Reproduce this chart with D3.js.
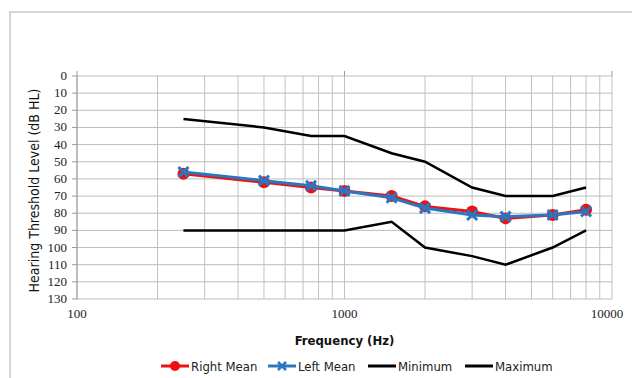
<!DOCTYPE html>
<html>
<head>
<meta charset="utf-8">
<script src="https://cdn.jsdelivr.net/npm/d3@7"></script>
<style>
  body { margin: 0; background: #fff; }
</style>
</head>
<body>
<script>
var frequencies = [250, 500, 750, 1000, 1500, 2000, 3000, 4000, 6000, 8000];
var rightMean = [57, 62, 65, 67, 70, 76, 79, 83, 81, 78];
var leftMean = [56, 61, 64, 67, 71, 77, 81, 82, 81, 79];
var minimum = [25, 30, 35, 35, 45, 50, 65, 70, 70, 65];
var maximum = [90, 90, 90, 90, 85, 100, 105, 110, 100, 90];
var yTicks = [0, 10, 20, 30, 40, 50, 60, 70, 80, 90, 100, 110, 120, 130];
var xTicks = [100, 1000, 10000];

var serif = "'Liberation Serif', 'Times New Roman', serif";
var sans = "'DejaVu Sans Condensed', 'DejaVu Sans', sans-serif";

var chartWidth = 632;
var chartHeight = 378;
var margin = {top: 76, right: 20, bottom: 79, left: 77};
var width = 612 - margin.left;
var height = 299 - margin.top;

var svg = d3.select("body")
            .append("svg")
            .attr("width", chartWidth)
            .attr("height", chartHeight);

// outer frame
svg.append("rect")
   .attr("x", 10).attr("y", 12)
   .attr("width", 640).attr("height", 400)
   .attr("fill", "none")
   .attr("stroke", "#c8c8c8")
   .attr("stroke-width", 1.5);

var xScale = d3.scaleLog()
               .domain([100, 10000])
               .range([0, width]);

var yScale = d3.scaleLinear()
               .domain([0, 130])
               .range([0, height]);

var chartGroup = svg.append("g")
                    .attr("transform", "translate(" + margin.left + "," + margin.top + ")");

// minor + major vertical gridlines
var xGrid = [];
[100, 1000].forEach(function(d) {
  for (var k = 1; k <= 10; k++) xGrid.push(d * k);
});
xGrid = Array.from(new Set(xGrid));

chartGroup.selectAll(".vgrid")
          .data(xGrid)
          .enter()
          .append("line")
          .attr("x1", function(d) { return xScale(d); })
          .attr("x2", function(d) { return xScale(d); })
          .attr("y1", 0)
          .attr("y2", height)
          .attr("stroke", "#c2c2c2")
          .attr("stroke-width", 1);

chartGroup.selectAll(".hgrid")
          .data(yTicks)
          .enter()
          .append("line")
          .attr("x1", 0)
          .attr("x2", width)
          .attr("y1", function(d) { return yScale(d); })
          .attr("y2", function(d) { return yScale(d); })
          .attr("stroke", "#bcbcbc")
          .attr("stroke-width", 1);

// left axis line + ticks
chartGroup.append("line")
          .attr("x1", 0).attr("x2", 0)
          .attr("y1", 0).attr("y2", height)
          .attr("stroke", "#999").attr("stroke-width", 1);

chartGroup.selectAll(".ytick")
          .data(yTicks)
          .enter()
          .append("line")
          .attr("x1", -5).attr("x2", 0)
          .attr("y1", function(d) { return yScale(d); })
          .attr("y2", function(d) { return yScale(d); })
          .attr("stroke", "#999");

chartGroup.selectAll(".ylabel")
          .data(yTicks)
          .enter()
          .append("text")
          .style("font-family", serif)
          .style("font-size", "13px")
          .attr("fill", "#222")
          .attr("text-anchor", "end")
          .attr("x", -10)
          .attr("y", function(d) { return yScale(d) + 4; })
          .text(function(d) { return d; });

// top ticks at major x positions
chartGroup.selectAll(".xtick")
          .data(xTicks)
          .enter()
          .append("line")
          .attr("x1", function(d) { return xScale(d); })
          .attr("x2", function(d) { return xScale(d); })
          .attr("y1", -5).attr("y2", 0)
          .attr("stroke", "#999");

chartGroup.selectAll(".xlabel")
          .data(xTicks)
          .enter()
          .append("text")
          .style("font-family", serif)
          .style("font-size", "13px")
          .attr("fill", "#222")
          .attr("text-anchor", "middle")
          .attr("x", function(d, i) { return xScale(d) - (i === 2 ? 5 : 0); })
          .attr("y", height + 19)
          .text(function(d) { return d; });

// axis titles
chartGroup.append("text")
          .style("font-family", sans)
          .style("font-size", "13px")
          .style("font-weight", "bold")
          .attr("fill", "#111")
          .attr("text-anchor", "middle")
          .attr("x", xScale(1000))
          .attr("y", height + 46)
          .text("Frequency (Hz)");

chartGroup.append("text")
          .style("font-family", sans)
          .style("font-size", "14px")
          .attr("fill", "#111")
          .attr("text-anchor", "middle")
          .attr("transform", "translate(-38," + (yScale(65) + 3) + ") rotate(-90)")
          .text("Hearing Threshold Level (dB HL)");

var line = d3.line()
             .x(function(d) { return xScale(d[0]); })
             .y(function(d) { return yScale(d[1]); });

function pairs(vals) {
  return frequencies.map(function(f, i) { return [f, vals[i]]; });
}

chartGroup.append("path")
          .attr("d", line(pairs(minimum)))
          .attr("fill", "none").attr("stroke", "#000").attr("stroke-width", 2.5);

chartGroup.append("path")
          .attr("d", line(pairs(maximum)))
          .attr("fill", "none").attr("stroke", "#000").attr("stroke-width", 2.5);

var red = "#ee1111";
var blue = "#2c76bf";

chartGroup.append("path")
          .attr("d", line(pairs(rightMean)))
          .attr("fill", "none").attr("stroke", red).attr("stroke-width", 3);

chartGroup.selectAll(".rdot")
          .data(pairs(rightMean))
          .enter()
          .append("circle")
          .attr("cx", function(d) { return xScale(d[0]); })
          .attr("cy", function(d) { return yScale(d[1]); })
          .attr("r", 6)
          .attr("fill", red);

chartGroup.append("path")
          .attr("d", line(pairs(leftMean)))
          .attr("fill", "none").attr("stroke", blue).attr("stroke-width", 3);

var cross = "M-5,-5L5,5M-5,5L5,-5";
chartGroup.selectAll(".lx")
          .data(pairs(leftMean))
          .enter()
          .append("path")
          .attr("transform", function(d) { return "translate(" + xScale(d[0]) + "," + yScale(d[1]) + ")"; })
          .attr("d", cross)
          .attr("stroke", blue)
          .attr("stroke-width", 3)
          .attr("fill", "none");

// legend
var legendItems = [
  {name: "Right Mean", color: red, marker: "circle", x: 161},
  {name: "Left Mean", color: blue, marker: "cross", x: 268},
  {name: "Minimum", color: "#000", marker: "none", x: 368},
  {name: "Maximum", color: "#000", marker: "none", x: 465}
];

var legend = svg.selectAll(".legend")
                .data(legendItems)
                .enter()
                .append("g")
                .attr("transform", function(d) { return "translate(" + d.x + ",366)"; });

legend.append("line")
      .attr("x1", 0).attr("x2", 28)
      .attr("y1", 0).attr("y2", 0)
      .attr("stroke", function(d) { return d.color; })
      .attr("stroke-width", 3);

legend.filter(function(d) { return d.marker === "circle"; })
      .append("circle")
      .attr("cx", 14).attr("cy", 0).attr("r", 5)
      .attr("fill", function(d) { return d.color; });

legend.filter(function(d) { return d.marker === "cross"; })
      .append("path")
      .attr("transform", "translate(14,0)")
      .attr("d", "M-4,-4L4,4M-4,4L4,-4")
      .attr("stroke", function(d) { return d.color; })
      .attr("stroke-width", 2.5);

legend.append("text")
      .style("font-family", sans)
      .style("font-size", "13px")
      .attr("fill", "#222")
      .attr("x", 30)
      .attr("y", 5)
      .text(function(d) { return d.name; });
</script>
</body>
</html>
